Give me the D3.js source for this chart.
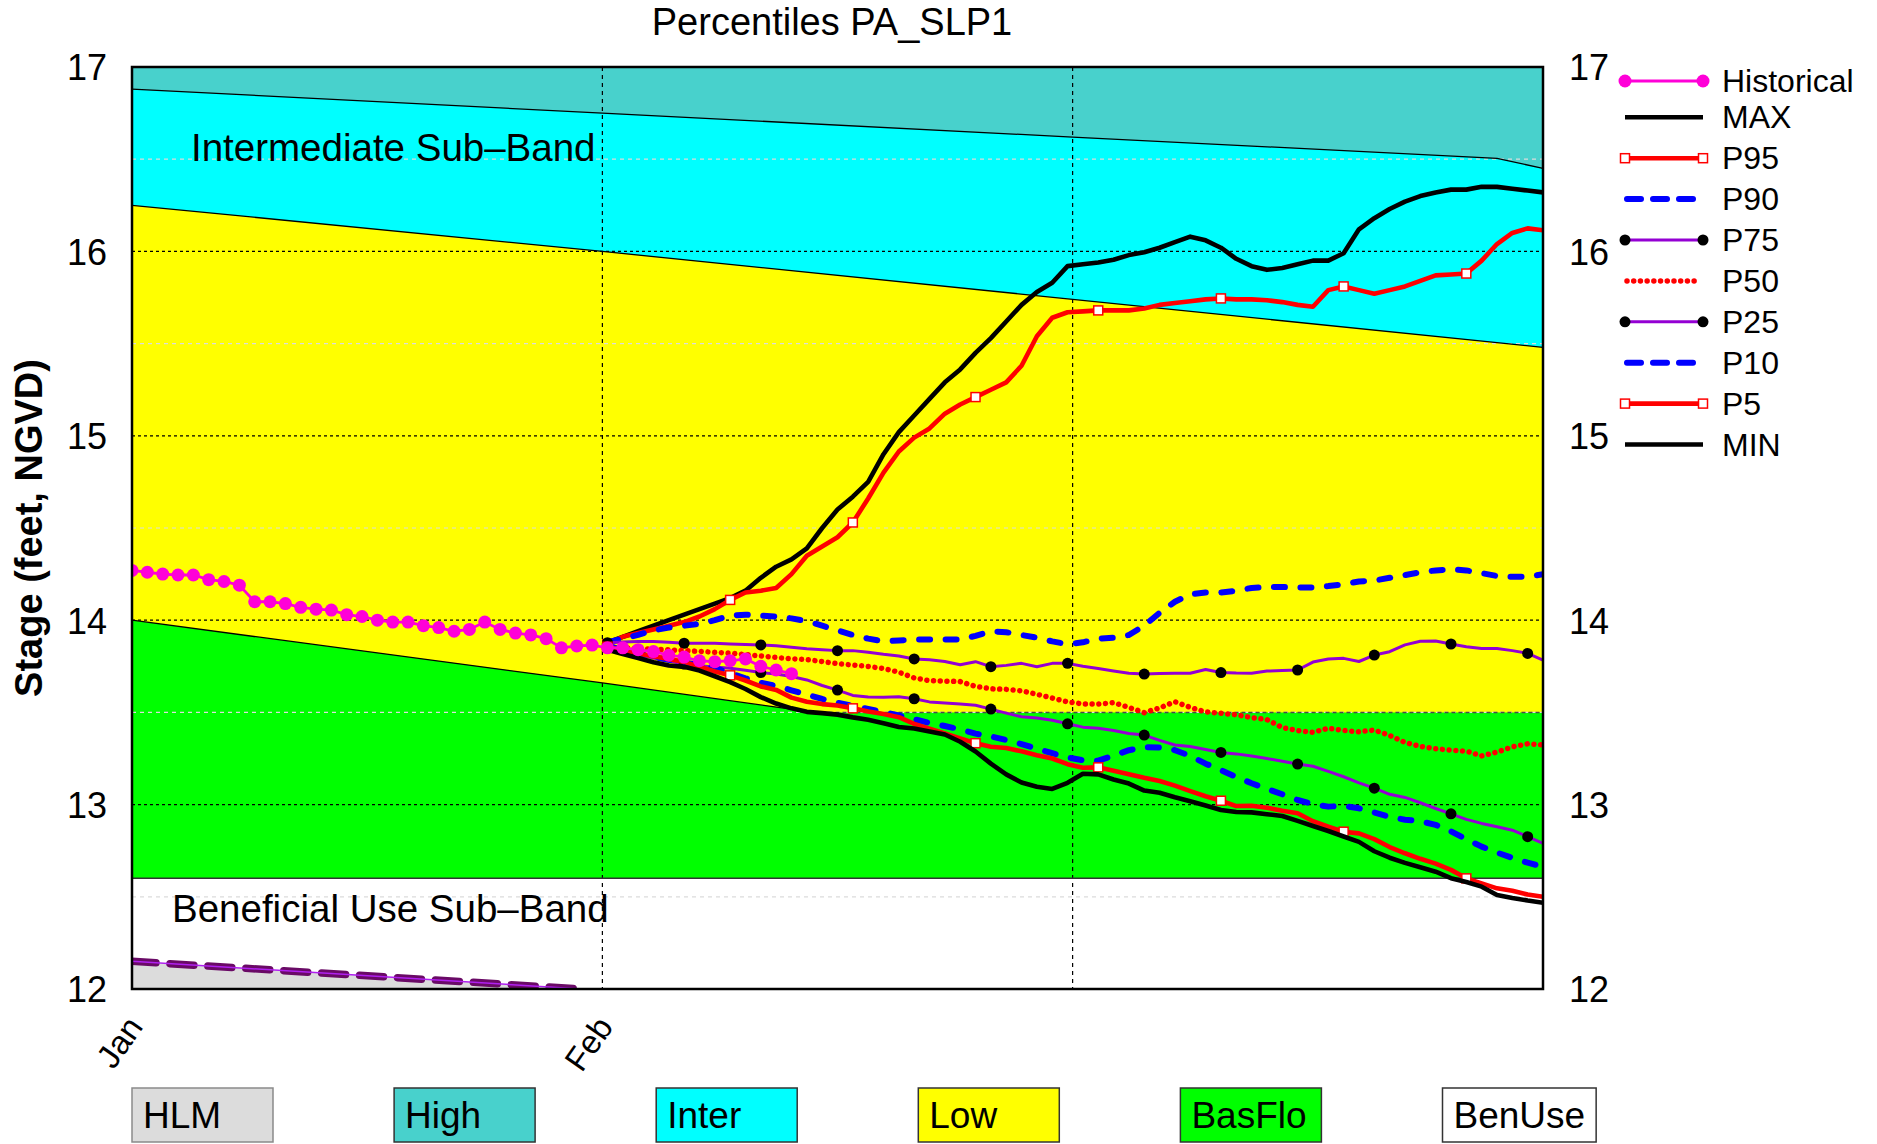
<!DOCTYPE html>
<html>
<head>
<meta charset="utf-8">
<script src="https://cdnjs.cloudflare.com/ajax/libs/d3/7.8.5/d3.min.js"></script>
<style>
  html, body { margin: 0; padding: 0; background: #fff; }
  svg { display: block; font-family: "Liberation Sans", Arial, Helvetica, sans-serif; }
</style>
</head>
<body>
<svg id="chart" width="1877" height="1144"></svg>
<script>
// percentis de nivel PA_SLP1, bandas de operacao + historico
const PLOT = { left: 132, right: 1543, top: 67, bottom: 989 };

// eixo x em dias desde 1 jan
const xTickDays = [0, 30.67, 61.33];
const xTickLabels = ["Jan", "Feb", ""];
const yLabelTicks = [12, 13, 14, 15, 16, 17];
const yMajorGrid = [13, 14, 15, 16];
const yMinorGrid = [12.5, 13.5, 14.5, 15.5, 16.5];

// limites das bandas (dia, cota)
const highInterDays = [0, 30.67, 61.33, 89, 92];
const highInterStage = [16.88, 16.75, 16.62, 16.505, 16.45];
const interLowDays = [0, 30.67, 61.33, 89, 92];
const interLowStage = [16.25, 16.0, 15.74, 15.505, 15.48];
const lowBasDays = [0, 30.67, 44.5, 92];
const lowBasStage = [14.0, 13.66, 13.5, 13.5];
const basBenDays = [0, 92];
const basBenStage = [12.6, 12.6];
const hlmDays = [0, 29.3];
const hlmStage = [12.15, 12.0];

const bandNames = ["HLM", "High", "Inter", "Low", "BasFlo", "BenUse"];
const bandColors = ["#DCDCDC", "#48D1CC", "#00FFFF", "#FFFF00", "#00FF00", "#FFFFFF"];

// historico diario
const histDays = d3.range(0, 44);
const histStage = [
  14.27, 14.26, 14.25, 14.245, 14.245, 14.22, 14.21, 14.19, 14.10, 14.10,
  14.09, 14.07, 14.06, 14.055, 14.03, 14.02, 14.00, 13.99, 13.99, 13.97,
  13.96, 13.94, 13.95, 13.99, 13.95, 13.93, 13.92, 13.90, 13.85, 13.86,
  13.865, 13.85, 13.85, 13.84, 13.83, 13.81, 13.80, 13.78, 13.775, 13.78,
  13.79, 13.75, 13.73, 13.71,
];

// previsao diaria a partir de 1 fev
const fcstDays = d3.range(31, 93);
const maxStage = [
  13.88, 13.91, 13.94, 13.97, 14.00, 14.03, 14.06, 14.09, 14.12, 14.16,
  14.23, 14.29, 14.33, 14.39, 14.50, 14.60, 14.67, 14.75, 14.90, 15.02,
  15.11, 15.20, 15.29, 15.36, 15.45, 15.53, 15.62, 15.71, 15.78, 15.83,
  15.92, 15.93, 15.94, 15.955, 15.98, 15.995, 16.02, 16.05, 16.08, 16.06,
  16.02, 15.96, 15.92, 15.90, 15.91, 15.93, 15.95, 15.95, 15.99, 16.12,
  16.18, 16.23, 16.27, 16.30, 16.32, 16.335, 16.335, 16.35, 16.35, 16.34,
  16.33, 16.32,
];
const p95Stage = [
  13.87, 13.91, 13.93, 13.95, 13.97, 13.99, 14.02, 14.06, 14.11, 14.15,
  14.16, 14.175, 14.25, 14.35, 14.40, 14.45, 14.53, 14.66, 14.80, 14.915,
  14.99, 15.04, 15.12, 15.17, 15.21, 15.25, 15.29, 15.38, 15.54, 15.64,
  15.67, 15.675, 15.68, 15.68, 15.68, 15.69, 15.71, 15.72, 15.73, 15.74,
  15.745, 15.74, 15.74, 15.735, 15.725, 15.71, 15.70, 15.79, 15.81, 15.79,
  15.77, 15.79, 15.81, 15.84, 15.87, 15.875, 15.88, 15.95, 16.04, 16.10,
  16.125, 16.115,
];
const p90Stage = [
  13.88, 13.90, 13.92, 13.945, 13.96, 13.97, 13.98, 14.00, 14.025, 14.03,
  14.025, 14.02, 14.01, 13.995, 13.97, 13.945, 13.92, 13.90, 13.885, 13.89,
  13.895, 13.895, 13.895, 13.895, 13.915, 13.94, 13.935, 13.92, 13.905, 13.885,
  13.87, 13.88, 13.90, 13.905, 13.92, 13.97, 14.04, 14.10, 14.14, 14.15,
  14.15, 14.16, 14.175, 14.18, 14.18, 14.178, 14.178, 14.185, 14.195, 14.21,
  14.215, 14.23, 14.245, 14.26, 14.27, 14.276, 14.27, 14.255, 14.24, 14.235,
  14.235, 14.25,
];
const p75Stage = [
  13.878, 13.882, 13.884, 13.884, 13.88, 13.875, 13.875, 13.875, 13.871, 13.868,
  13.866, 13.861, 13.853, 13.845, 13.84, 13.835, 13.835, 13.826, 13.815, 13.806,
  13.79, 13.785, 13.776, 13.758, 13.775, 13.748, 13.755, 13.766, 13.748, 13.766,
  13.766, 13.75, 13.738, 13.725, 13.712, 13.708, 13.711, 13.712, 13.712, 13.733,
  13.716, 13.713, 13.712, 13.724, 13.727, 13.73, 13.773, 13.79, 13.793, 13.776,
  13.811, 13.829, 13.866, 13.886, 13.887, 13.871, 13.856, 13.847, 13.847, 13.835,
  13.82, 13.784,
];
const p50Stage = [
  13.857, 13.85, 13.846, 13.843, 13.839, 13.835, 13.831, 13.826, 13.821, 13.814,
  13.806, 13.798, 13.791, 13.786, 13.776, 13.764, 13.757, 13.749, 13.738, 13.718,
  13.687, 13.672, 13.67, 13.667, 13.641, 13.628, 13.625, 13.617, 13.598, 13.578,
  13.557, 13.546, 13.545, 13.553, 13.527, 13.499, 13.524, 13.558, 13.527, 13.503,
  13.495, 13.487, 13.472, 13.461, 13.418, 13.401, 13.392, 13.414, 13.402, 13.395,
  13.404, 13.375, 13.337, 13.316, 13.303, 13.295, 13.29, 13.264, 13.285, 13.313,
  13.33, 13.323,
];
const p25Stage = [
  13.855, 13.833, 13.814, 13.795, 13.778, 13.762, 13.753, 13.746, 13.74, 13.728,
  13.716, 13.708, 13.695, 13.676, 13.646, 13.621, 13.592, 13.583, 13.582, 13.585,
  13.574, 13.557, 13.551, 13.546, 13.539, 13.518, 13.496, 13.476, 13.47, 13.457,
  13.438, 13.42, 13.414, 13.402, 13.386, 13.377, 13.348, 13.323, 13.315, 13.299,
  13.283, 13.275, 13.263, 13.25, 13.235, 13.22, 13.208, 13.18, 13.151, 13.118,
  13.089, 13.056, 13.039, 13.01, 12.979, 12.95, 12.92, 12.898, 12.88, 12.861,
  12.826, 12.79,
];
const p10Stage = [
  13.86, 13.84, 13.82, 13.80, 13.785, 13.77, 13.757, 13.741, 13.713, 13.685,
  13.661, 13.643, 13.62, 13.596, 13.573, 13.552, 13.536, 13.519, 13.502, 13.483,
  13.463, 13.443, 13.426, 13.408, 13.385, 13.37, 13.35, 13.328, 13.303, 13.279,
  13.256, 13.24, 13.238, 13.266, 13.295, 13.312, 13.31, 13.295, 13.264, 13.222,
  13.187, 13.15, 13.116, 13.085, 13.056, 13.025, 13.003, 12.989, 12.993, 12.98,
  12.957, 12.933, 12.918, 12.91, 12.89, 12.855, 12.812, 12.772, 12.74, 12.711,
  12.685, 12.663,
];
const p5Stage = [
  13.856, 13.837, 13.82, 13.805, 13.79, 13.774, 13.748, 13.722, 13.701, 13.673,
  13.641, 13.622, 13.58, 13.558, 13.545, 13.537, 13.522, 13.505, 13.491, 13.474,
  13.438, 13.411, 13.386, 13.359, 13.333, 13.314, 13.307, 13.289, 13.268, 13.25,
  13.219, 13.2, 13.202, 13.184, 13.164, 13.145, 13.128, 13.103, 13.073, 13.045,
  13.021, 12.992, 12.994, 12.983, 12.967, 12.953, 12.91, 12.88, 12.853, 12.844,
  12.813, 12.77, 12.736, 12.706, 12.68, 12.646, 12.6, 12.573, 12.546, 12.533,
  12.512, 12.5,
];
const minStage = [
  13.84, 13.817, 13.795, 13.772, 13.754, 13.747, 13.727, 13.696, 13.664, 13.627,
  13.583, 13.548, 13.522, 13.503, 13.496, 13.488, 13.473, 13.46, 13.441, 13.421,
  13.413, 13.397, 13.38, 13.341, 13.288, 13.222, 13.164, 13.12, 13.097, 13.085,
  13.118, 13.167, 13.164, 13.136, 13.114, 13.076, 13.064, 13.04, 13.018, 12.995,
  12.971, 12.96, 12.958, 12.948, 12.938, 12.912, 12.884, 12.857, 12.827, 12.798,
  12.747, 12.712, 12.684, 12.66, 12.636, 12.601, 12.58, 12.555, 12.51, 12.494,
  12.48, 12.468,
];

const MAGENTA = "#FF00D8";
const PURPLE = "#9400D3";
const BLUE_DASH = "11 15.5";
const RED_DOTS = "0.01 6.7";

const series = [
  { name: "MAX", values: maxStage, color: "#000", width: 4.6 },
  { name: "P95", values: p95Stage, color: "#FF0000", width: 4.6, marker: "square", every: 8 },
  { name: "P90", values: p90Stage, color: "#0000FF", width: 6, dash: BLUE_DASH },
  { name: "P75", values: p75Stage, color: PURPLE, width: 3, marker: "dot", every: 5 },
  { name: "P50", values: p50Stage, color: "#FF0000", width: 5.5, dash: RED_DOTS },
  { name: "P25", values: p25Stage, color: PURPLE, width: 3, marker: "dot", every: 5 },
  { name: "P10", values: p10Stage, color: "#0000FF", width: 6, dash: BLUE_DASH },
  { name: "P5", values: p5Stage, color: "#FF0000", width: 4.6, marker: "square", every: 8 },
  { name: "MIN", values: minStage, color: "#000", width: 4.6 },
];

const svg = d3.select("#chart");
const x = d3.scaleLinear().domain([0, 92]).range([PLOT.left, PLOT.right]);
const y = d3.scaleLinear().domain([12, 17]).range([PLOT.bottom, PLOT.top]);

svg.append("defs").append("clipPath").attr("id", "plotClip")
  .append("rect")
  .attr("x", PLOT.left).attr("y", PLOT.top)
  .attr("width", PLOT.right - PLOT.left).attr("height", PLOT.bottom - PLOT.top);

const gPlot = svg.append("g").attr("clip-path", "url(#plotClip)");

drawBands();
drawGrid();
drawBoundaries();
drawBandLabels();
drawSeries();
drawHistorical();
drawFrameAndAxes();
drawLegend();
drawBandLegend();

function zip(days, vals) {
  return days.map((d, i) => [d, vals[i]]);
}

function drawBands() {
  const area = d3.area().x((d) => x(d[0])).y0(y(12)).y1((d) => y(d[1]));
  const layers = [
    { pts: zip([0, 92], [17, 17]), color: bandColors[1] },
    { pts: zip(highInterDays, highInterStage), color: bandColors[2] },
    { pts: zip(interLowDays, interLowStage), color: bandColors[3] },
    { pts: zip(lowBasDays, lowBasStage), color: bandColors[4] },
    { pts: zip(basBenDays, basBenStage), color: bandColors[5] },
    { pts: zip(hlmDays, hlmStage), color: bandColors[0] },
  ];
  gPlot.selectAll("path.band").data(layers).join("path")
    .attr("class", "band")
    .attr("d", (d) => area(d.pts))
    .attr("fill", (d) => d.color);
}

function drawGrid() {
  gPlot.selectAll("line.minor").data(yMinorGrid).join("line")
    .attr("class", "minor")
    .attr("x1", PLOT.left).attr("x2", PLOT.right)
    .attr("y1", (d) => y(d)).attr("y2", (d) => y(d))
    .attr("stroke", "#DCDCDC").attr("stroke-width", 1.2).attr("stroke-dasharray", "4 4");
  gPlot.selectAll("line.major").data(yMajorGrid).join("line")
    .attr("class", "major")
    .attr("x1", PLOT.left).attr("x2", PLOT.right)
    .attr("y1", (d) => y(d)).attr("y2", (d) => y(d))
    .attr("stroke", "#000").attr("stroke-width", 1.2).attr("stroke-dasharray", "3 3");
  gPlot.selectAll("line.vgrid").data(xTickDays.slice(1)).join("line")
    .attr("class", "vgrid")
    .attr("x1", (d) => x(d)).attr("x2", (d) => x(d))
    .attr("y1", PLOT.top).attr("y2", PLOT.bottom)
    .attr("stroke", "#000").attr("stroke-width", 1.2).attr("stroke-dasharray", "4 4");
}

function drawBoundaries() {
  const line = d3.line().x((d) => x(d[0])).y((d) => y(d[1]));
  const lowPts = zip(lowBasDays, lowBasStage);
  const solid = [zip(highInterDays, highInterStage), zip(interLowDays, interLowStage), lowPts.slice(0, 3)];
  gPlot.selectAll("path.bound").data(solid).join("path")
    .attr("class", "bound")
    .attr("d", line).attr("fill", "none")
    .attr("stroke", "#000").attr("stroke-width", 1.3);
  // parte plana da banda base: tracejado escuro
  gPlot.append("path").attr("d", line(lowPts.slice(2)))
    .attr("fill", "none").attr("stroke", "#4a4a4a").attr("stroke-width", 1.5).attr("stroke-dasharray", "4 3");
  gPlot.append("path").attr("d", line(zip(basBenDays, basBenStage)))
    .attr("fill", "none").attr("stroke", "#333").attr("stroke-width", 1.5);

  // linha HLM tracejada roxa
  const hlm = zip(hlmDays, hlmStage);
  gPlot.append("path").attr("d", line(hlm))
    .attr("fill", "none").attr("stroke", "#6A0A66").attr("stroke-width", 7.5)
    .attr("stroke-dasharray", "24 14").attr("stroke-linecap", "round");
  gPlot.append("path").attr("d", line(hlm))
    .attr("fill", "none").attr("stroke", "#B020F0").attr("stroke-width", 1.5);
}

function drawBandLabels() {
  svg.append("text").attr("x", 191).attr("y", 161)
    .attr("font-size", 38.5).attr("fill", "#000").text("Intermediate Sub–Band");
  svg.append("text").attr("x", 172).attr("y", 922)
    .attr("font-size", 38.5).attr("fill", "#000").text("Beneficial Use Sub–Band");
}

function drawSeries() {
  const line = d3.line().x((d) => x(d[0])).y((d) => y(d[1]));
  series.forEach((s) => {
    const pts = zip(fcstDays, s.values);
    gPlot.append("path").attr("d", line(pts))
      .attr("fill", "none")
      .attr("stroke", s.color)
      .attr("stroke-width", s.width)
      .attr("stroke-linejoin", "round")
      .attr("stroke-linecap", s.dash ? "round" : "butt")
      .attr("stroke-dasharray", s.dash || null);
    if (s.marker) {
      const marks = pts.filter((_d, i) => i % s.every === 0);
      drawMarkers(gPlot, marks.map((d) => [x(d[0]), y(d[1])]), s.marker);
    }
  });
}

function drawMarkers(g, xy, kind) {
  if (kind === "square") {
    g.selectAll(null).data(xy).join("rect")
      .attr("x", (d) => d[0] - 4.5).attr("y", (d) => d[1] - 4.5)
      .attr("width", 9).attr("height", 9)
      .attr("fill", "#fff").attr("stroke", "#FF0000").attr("stroke-width", 1.5);
  } else if (kind === "dot") {
    g.selectAll(null).data(xy).join("circle")
      .attr("cx", (d) => d[0]).attr("cy", (d) => d[1]).attr("r", 5.5)
      .attr("fill", "#000");
  } else if (kind === "hist") {
    g.selectAll(null).data(xy).join("circle")
      .attr("cx", (d) => d[0]).attr("cy", (d) => d[1]).attr("r", 6.5)
      .attr("fill", MAGENTA);
  }
}

function drawHistorical() {
  const pts = zip(histDays, histStage);
  const line = d3.line().x((d) => x(d[0])).y((d) => y(d[1]));
  gPlot.append("path").attr("d", line(pts))
    .attr("fill", "none").attr("stroke", MAGENTA).attr("stroke-width", 2.8);
  drawMarkers(gPlot, pts.map((d) => [x(d[0]), y(d[1])]), "hist");
}

function drawFrameAndAxes() {
  svg.append("rect")
    .attr("x", PLOT.left).attr("y", PLOT.top)
    .attr("width", PLOT.right - PLOT.left).attr("height", PLOT.bottom - PLOT.top)
    .attr("fill", "none").attr("stroke", "#000").attr("stroke-width", 2.5);

  const left = svg.append("g").attr("transform", `translate(${PLOT.left},0)`)
    .call(d3.axisLeft(y).tickValues(yLabelTicks).tickSize(0).tickPadding(25).tickFormat(d3.format("d")));
  const right = svg.append("g").attr("transform", `translate(${PLOT.right},0)`)
    .call(d3.axisRight(y).tickValues(yLabelTicks).tickSize(0).tickPadding(26).tickFormat(d3.format("d")));
  [left, right].forEach((g) => {
    g.select(".domain").remove();
    g.selectAll("text")
      .attr("font-size", 36).attr("fill", "#000")
      .attr("font-family", "Liberation Sans, Arial, sans-serif")
      .attr("dy", "0.36em");
  });

  svg.selectAll("text.xlab").data(xTickDays.filter((_d, i) => xTickLabels[i])).join("text")
    .attr("class", "xlab")
    .attr("transform", (d) => `translate(${x(d) + 12},1027) rotate(-55)`)
    .attr("text-anchor", "end")
    .attr("font-size", 33)
    .text((_d, i) => xTickLabels[i]);

  svg.append("text")
    .attr("transform", `translate(42,${(PLOT.top + PLOT.bottom) / 2}) rotate(-90)`)
    .attr("text-anchor", "middle")
    .attr("font-size", 38).attr("font-weight", 700)
    .text("Stage (feet, NGVD)");

  svg.append("text")
    .attr("x", 832).attr("y", 35)
    .attr("text-anchor", "middle")
    .attr("font-size", 38)
    .text("Percentiles PA_SLP1");
}

function drawLegend() {
  const x1 = 1625, x2 = 1703, tx = 1722;
  const rowY = (i) => (i === 0 ? 81 : 117.3 + (i - 1) * 40.9);
  const g = svg.append("g");
  const entries = [{ name: "Historical", color: MAGENTA, width: 2.8, marker: "hist" }, ...series];
  entries.forEach((s, i) => {
    const yy = rowY(i);
    const isDots = s.dash === RED_DOTS;
    g.append("line")
      .attr("x1", x1 + (s.dash ? 2 : 0)).attr("x2", s.dash ? x2 - 6 : x2)
      .attr("y1", yy).attr("y2", yy)
      .attr("stroke", s.color).attr("stroke-width", s.width)
      .attr("stroke-linecap", s.dash ? "round" : "butt")
      .attr("stroke-dasharray", isDots ? RED_DOTS : s.dash ? "14 12" : null);
    if (s.marker) {
      drawMarkers(g, [[x1, yy], [x2, yy]], s.marker);
    }
    g.append("text").attr("x", tx).attr("y", yy + 11)
      .attr("font-size", 32).text(s.name);
  });
}

function drawBandLegend() {
  const g = svg.append("g");
  bandNames.forEach((name, i) => {
    const bx = 132 + i * 262.1;
    const t = g.append("text").attr("x", bx + 11).attr("y", 1128)
      .attr("font-size", 37).text(name);
    const w = Math.max(141, t.node().getComputedTextLength() + 22);
    g.insert("rect", "text")
      .attr("x", bx).attr("y", 1088).attr("width", w).attr("height", 54)
      .attr("fill", bandColors[i]).attr("stroke", i === 0 ? "#8a8a8a" : "#333").attr("stroke-width", 1.5);
  });
}
</script>
</body>
</html>
